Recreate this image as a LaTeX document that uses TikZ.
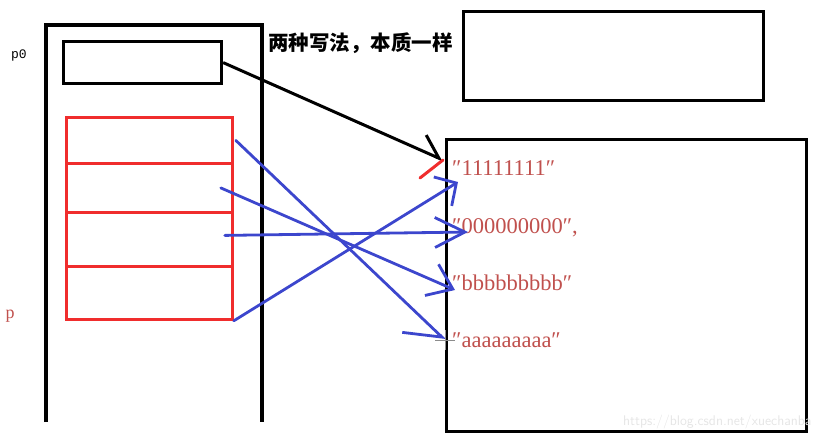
\documentclass[tikz,border=0pt]{standalone}
\usepackage{fontspec}
\setmainfont{Liberation Serif}
\newfontfamily\cjkfont{Noto Sans CJK SC}
\newfontfamily\codefont{Liberation Mono}
\usetikzlibrary{arrows.meta}
\definecolor{strred}{RGB}{192,80,77}
\definecolor{penblue}{RGB}{60,70,205}
\definecolor{boxred}{RGB}{240,45,45}

\begin{document}
\begin{tikzpicture}[x=1pt,y=-1pt,
  box/.style={draw,line width=3.2pt,anchor=north west,inner sep=0pt},
  cell/.style={draw=boxred,line width=2.8pt,anchor=north west,minimum width=166pt,inner sep=0pt},
  pen/.style={draw=penblue,line width=2.8pt,line cap=round},
  barb/.style 2 args={-{Straight Barb[length=#1,width=#2,line width=2.8pt]}},
  str/.style={text=strred,font=\fontsize{22.5}{22.5}\selectfont,anchor=west,inner sep=0pt}]
\useasboundingbox (0,0) rectangle (823,440);
\draw[line width=3.2pt] (46,422) -- (46,25) -- (262,25) -- (262,422);
\node (p0box) [box,minimum width=158pt,minimum height=42pt] at (62,40) {};
\node (top) [box,minimum width=300pt,minimum height=89pt] at (462,10) {};
\node (heap) [box,minimum width=360pt,minimum height=292pt] at (445,138) {};
\node (c1) [cell,minimum height=46pt] at (65,116) {};
\node (c2) [cell,minimum height=49pt] at (65,162) {};
\node (c3) [cell,minimum height=54pt] at (65,211) {};
\node (c4) [cell,minimum height=53pt] at (65,265) {};
\node (p0) [font=\codefont\fontsize{13}{13}\selectfont] at (19,55) {p0};
\node (p) [text=strred,font=\fontsize{18}{18}\selectfont] at (10,316) {p};
\node (title) [anchor=west,inner sep=0pt,font=\cjkfont\bfseries\fontsize{20.5}{20.5}\selectfont] at (268,43) {两种写法，本质一样};
\node (s1) [str] at (452,168) {″11111111″};
\node (s2) [str] at (452,228) {″000000000″,};
\node (s3) [str] at (452,283) {″bbbbbbbbb″};
\node (s4) [str] at (452,340) {″aaaaaaaaa″};
\node (mark) [text=black!10,font=\sffamily\fontsize{14}{14}\selectfont,anchor=east] at (815,422) {https://blog.csdn.net/xuechanba};
\coordinate (ptr) at (443,160);
\coordinate (to1) at (458,182);
\coordinate (to0) at (468,232);
\coordinate (tob) at (455,290);
\coordinate (toa) at (445,340);
\draw[line width=3pt,-{Straight Barb[left,length=21pt,width=32pt,line width=3pt]}] (p0box.east) -- (ptr);
\draw[draw=boxred,line width=3pt,line cap=round] (ptr) -- ++(-23,18);
\draw[pen,barb={16pt}{34pt}] (c4.south east) -- (to1);
\draw[pen,barb={30pt}{30pt}] ([xshift=-9pt,yshift=4pt]c3.east) -- (to0);
\draw[pen,barb={23pt}{34pt}] ([xshift=-13pt]c2.east) -- (tob);
\draw[pen,-{Straight Barb[right,length=32pt,width=48pt,line width=2.8pt]}] ([xshift=2pt]c1.east) -- (toa);
\draw[black!45,line width=0.7pt] (toa) ++(-10,0) -- ++(20,0) (toa) ++(0,-10) -- ++(0,20);
\end{tikzpicture}
\end{document}
